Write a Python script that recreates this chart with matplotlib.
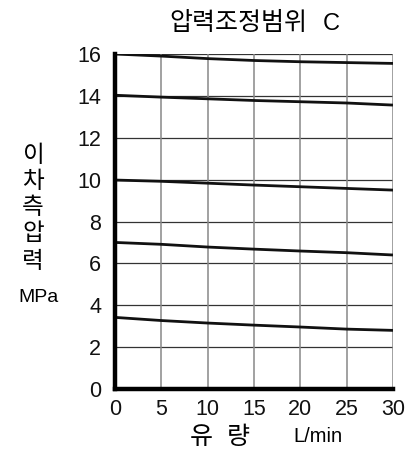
import matplotlib
matplotlib.use("Agg")
import matplotlib.pyplot as plt

flow = [0, 5, 10, 15, 20, 25, 30]
p16 = [16.0, 15.9, 15.78, 15.69, 15.63, 15.59, 15.55]
p14 = [14.03, 13.94, 13.86, 13.78, 13.72, 13.66, 13.56]
p10 = [9.98, 9.92, 9.83, 9.74, 9.66, 9.58, 9.5]
p7 = [7.0, 6.91, 6.78, 6.68, 6.59, 6.51, 6.4]
p3 = [3.42, 3.27, 3.15, 3.05, 2.96, 2.86, 2.8]
curves = [p16, p14, p10, p7, p3]
xticks = [0, 5, 10, 15, 20, 25, 30]
yticks = [0, 2, 4, 6, 8, 10, 12, 14, 16]
title = "압력조정범위"
title_suffix = "C"
ylabel_chars = ["이", "차", "측", "압", "력"]
yunit = "MPa"
xlabel_chars = ["유", "량"]
xunit = "L/min"

KR = ["Noto Sans CJK KR", "DejaVu Sans"]
LAT = ["Liberation Sans", "DejaVu Sans"]

fig = plt.figure(figsize=(4.13, 4.54), dpi=100)
W, H = 413, 454
ax = fig.add_axes([115 / W, 1 - 389 / H, (393 - 115) / W, (389 - 54) / H])
ax.set_xlim(0, 30)
ax.set_ylim(0, 16)

for y in yticks:
    ax.axhline(y, color="#333333", lw=0.9, zorder=1)
for x in xticks:
    ax.axvline(x, color="#888888", lw=1.1, zorder=1)

for c in curves:
    ax.plot(flow, c, color="#111111", lw=2.0, zorder=3, solid_capstyle="butt")

for s in ["top", "right"]:
    ax.spines[s].set_visible(False)
ax.spines["left"].set_linewidth(3.2)
ax.spines["bottom"].set_linewidth(3.2)
ax.spines["left"].set_zorder(4)
ax.spines["bottom"].set_zorder(4)

ax.set_xticks(xticks)
ax.set_yticks(yticks)
ax.set_xticklabels([str(v) for v in xticks], fontfamily=LAT, fontsize=15.5)
ax.set_yticklabels([str(v) for v in yticks], fontfamily=LAT, fontsize=15.5)
ax.tick_params(length=0, pad=7, colors="#111111")
ax.tick_params(axis="y", pad=10)

fig.text(238 / W, 1 - 23 / H, title, family=KR, fontsize=18, ha="center", va="center")
fig.text(331 / W, 1 - 24 / H, title_suffix, family=LAT, fontsize=17, ha="center", va="center")

ys = [156, 182, 207, 234, 261]
for ch, yy in zip(ylabel_chars, ys):
    fig.text(33 / W, 1 - yy / H, ch, family=KR, fontsize=17, ha="center", va="center")
fig.text(38 / W, 1 - 298 / H, yunit, family=LAT, fontsize=14, ha="center", va="center")

for ch, xx in zip(xlabel_chars, [201, 238]):
    fig.text(xx / W, 1 - 437 / H, ch, family=KR, fontsize=18, ha="center", va="center")
fig.text(318 / W, 1 - 437 / H, xunit, family=LAT, fontsize=14.5, ha="center", va="center")

fig.savefig("out.png", dpi=100)
